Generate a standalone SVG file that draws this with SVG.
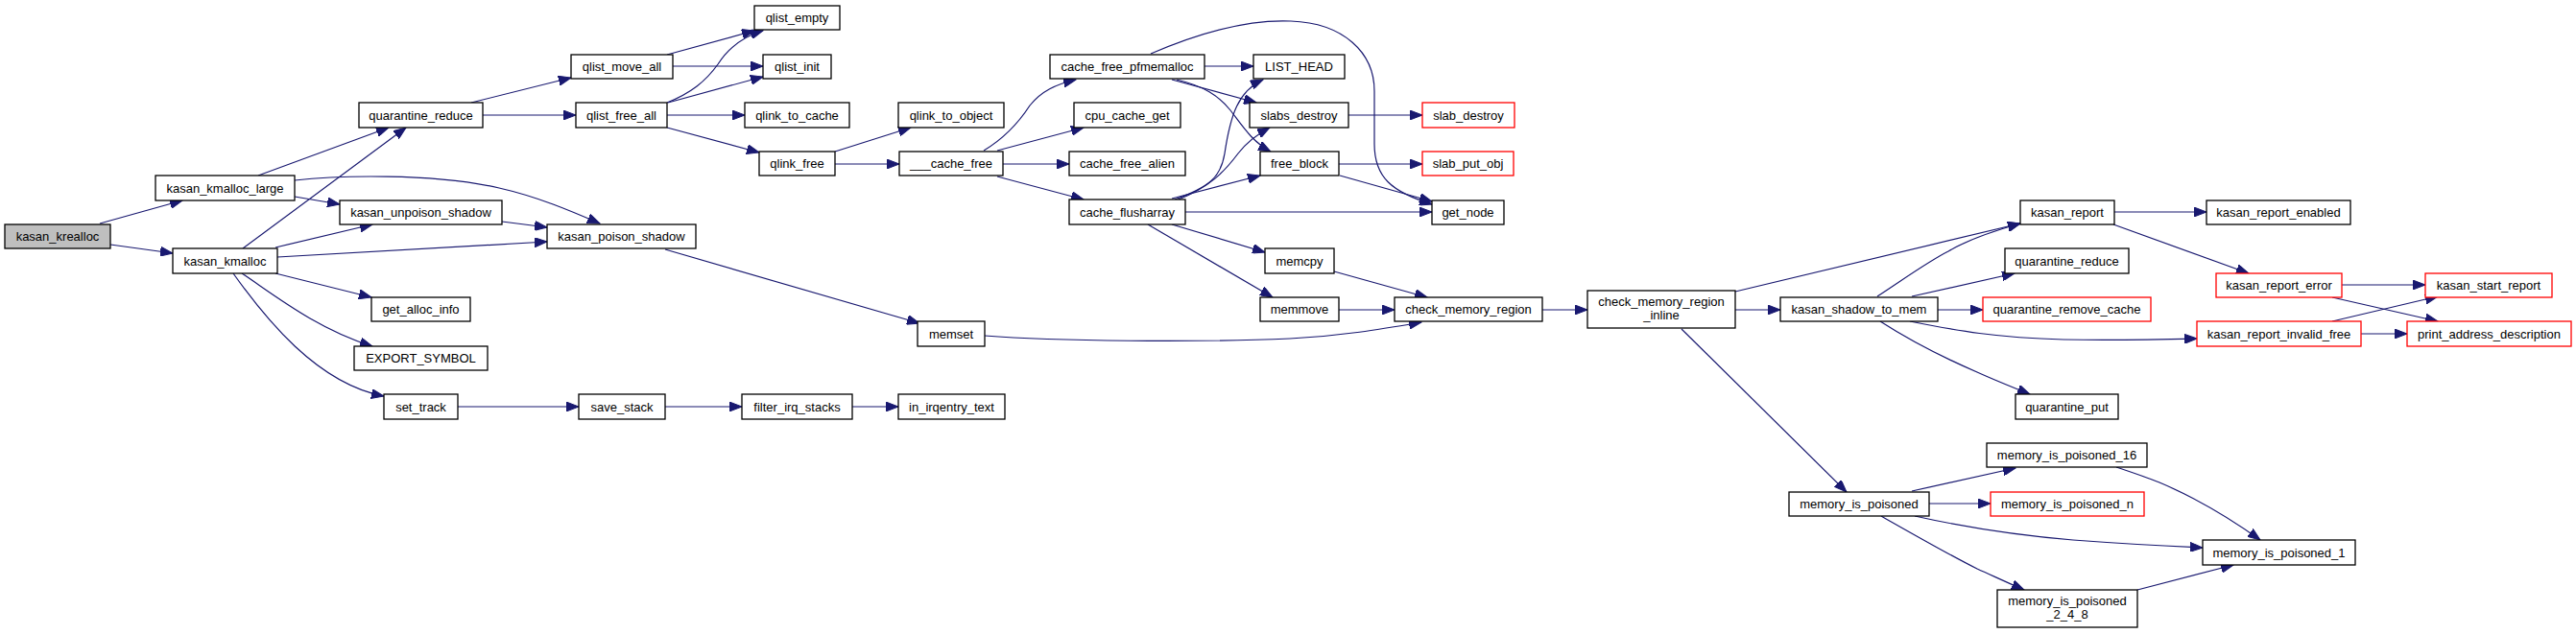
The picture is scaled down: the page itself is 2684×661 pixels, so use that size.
<svg xmlns="http://www.w3.org/2000/svg" width="2684" height="661" viewBox="0 0 2684 661">
<style>
.n rect{fill:#fff;stroke:#000;stroke-width:1.3}
.n.root rect{fill:#bfbfbf}
.n.red rect{stroke:#ff0000}
.n text{font-family:"Liberation Sans",Arial,sans-serif;font-size:13px;fill:#000;text-anchor:middle}
#edges path{fill:none;stroke:#191970;stroke-width:1.2;marker-end:url(#ah)}
</style>
<defs>
<marker id="ah" markerUnits="userSpaceOnUse" markerWidth="14" markerHeight="10" refX="13" refY="5" orient="auto">
<path d="M0,0 L13,5 L0,10 z" fill="#191970" stroke="#191970" stroke-width="1"/>
</marker>
</defs>
<rect width="2684" height="661" fill="#fff"/>
<g id="edges">
<path d="M104,233 L190,209"/>
<path d="M115,255 L180,264"/>
<path d="M269,183 L405,133"/>
<path d="M307,188 C350,183 450,180 520,196 C560,205 595,220 625,233"/>
<path d="M307,205 L354,213"/>
<path d="M253,259 L423,133"/>
<path d="M287,258 L388,234"/>
<path d="M289,268 L570,252"/>
<path d="M287,285 L387,310"/>
<path d="M252,285 C285,307 330,343 388,361"/>
<path d="M243,285 C275,330 330,400 400,413"/>
<path d="M523,231 L570,237"/>
<path d="M491,107 L595,81"/>
<path d="M503,120 L600,120"/>
<path d="M695,57 L786,32"/>
<path d="M701,69 L795,69"/>
<path d="M695,107 C720,97 735,85 748,67 C760,48 775,38 795,32"/>
<path d="M696,107 L795,80"/>
<path d="M695,120 L776,120"/>
<path d="M695,133 L791,159"/>
<path d="M870,158 L949,133"/>
<path d="M870,171 L937,171"/>
<path d="M1025,157 C1045,145 1060,130 1073,110 C1085,95 1100,88 1121,83"/>
<path d="M1039,157 L1129,133"/>
<path d="M1045,171 L1114,171"/>
<path d="M1039,184 L1129,208"/>
<path d="M1255,69 L1306,69"/>
<path d="M1221,83 L1309,107"/>
<path d="M1226,83 C1255,90 1270,100 1282,115 C1295,132 1305,148 1324,158"/>
<path d="M1199,56 C1250,34 1300,20 1345,22 C1400,24 1432,55 1432,95 L1432,150 C1432,185 1450,200 1492,213"/>
<path d="M1224,208 C1260,195 1272,185 1276,160 C1282,120 1290,95 1316,83"/>
<path d="M1228,208 C1260,195 1275,180 1290,160 C1300,147 1310,140 1323,133"/>
<path d="M1221,207 L1313,183"/>
<path d="M1235,221 L1492,221"/>
<path d="M1221,234 L1318,263"/>
<path d="M1196,234 L1326,310"/>
<path d="M1395,171 L1482,171"/>
<path d="M1396,183 L1492,210"/>
<path d="M1405,120 L1482,120"/>
<path d="M1390,283 L1487,310"/>
<path d="M1395,323 L1453,323"/>
<path d="M693,260 L958,337"/>
<path d="M1026,350 C1100,356 1250,357 1344,353 C1400,350 1440,343 1481,336"/>
<path d="M1607,323 L1654,323"/>
<path d="M1808,304 L2105,233"/>
<path d="M1808,323 L1855,323"/>
<path d="M1752,343 L1924,513"/>
<path d="M1956,309 C1985,290 2010,272 2030,262 C2050,250 2080,240 2105,233"/>
<path d="M1992,309 L2099,285"/>
<path d="M2019,323 L2066,323"/>
<path d="M1990,335 C2040,345 2080,352 2150,354 C2200,355 2250,354 2289,353"/>
<path d="M1959,335 C1990,355 2030,375 2060,388 C2080,397 2100,405 2115,411"/>
<path d="M2203,221 L2299,221"/>
<path d="M2202,234 L2343,285"/>
<path d="M2440,297 L2527,297"/>
<path d="M2430,310 L2540,335"/>
<path d="M2430,335 L2540,309"/>
<path d="M2460,348 L2508,348"/>
<path d="M1992,512 L2100,488"/>
<path d="M2010,525 L2074,525"/>
<path d="M1995,538 C2040,548 2100,558 2160,563 C2200,566 2250,569 2295,571"/>
<path d="M1960,538 C1990,555 2030,578 2060,593 C2080,602 2095,609 2109,615"/>
<path d="M2205,487 C2220,492 2235,497 2250,503 C2290,520 2330,545 2355,563"/>
<path d="M2227,615 L2327,589"/>
<path d="M477,424 L603,424"/>
<path d="M693,424 L773,424"/>
<path d="M888,424 L936,424"/>
</g>
<g id="kasan_krealloc" class="n root"><rect x="5" y="234" width="110" height="25"/><text x="60" y="251">kasan_krealloc</text></g>
<g id="kasan_kmalloc_large" class="n"><rect x="162" y="183" width="145" height="26"/><text x="234.5" y="200.5">kasan_kmalloc_large</text></g>
<g id="kasan_kmalloc" class="n"><rect x="180" y="259" width="109" height="26"/><text x="234.5" y="276.5">kasan_kmalloc</text></g>
<g id="quarantine_reduce" class="n"><rect x="374" y="107" width="129" height="26"/><text x="438.5" y="124.5">quarantine_reduce</text></g>
<g id="kasan_unpoison_shadow" class="n"><rect x="354" y="209" width="169" height="25"/><text x="438.5" y="226">kasan_unpoison_shadow</text></g>
<g id="get_alloc_info" class="n"><rect x="387" y="310" width="103" height="25"/><text x="438.5" y="327">get_alloc_info</text></g>
<g id="EXPORT_SYMBOL" class="n"><rect x="369" y="361" width="139" height="25"/><text x="438.5" y="378">EXPORT_SYMBOL</text></g>
<g id="set_track" class="n"><rect x="400" y="411" width="77" height="26"/><text x="438.5" y="428.5">set_track</text></g>
<g id="qlist_empty" class="n"><rect x="786" y="6" width="89" height="25"/><text x="830.5" y="23">qlist_empty</text></g>
<g id="qlist_move_all" class="n"><rect x="595" y="57" width="106" height="25"/><text x="648" y="74">qlist_move_all</text></g>
<g id="qlist_init" class="n"><rect x="795" y="57" width="71" height="25"/><text x="830.5" y="74">qlist_init</text></g>
<g id="qlist_free_all" class="n"><rect x="600" y="107" width="95" height="26"/><text x="647.5" y="124.5">qlist_free_all</text></g>
<g id="qlink_to_cache" class="n"><rect x="776" y="107" width="109" height="26"/><text x="830.5" y="124.5">qlink_to_cache</text></g>
<g id="qlink_free" class="n"><rect x="791" y="158" width="79" height="25"/><text x="830.5" y="175">qlink_free</text></g>
<g id="kasan_poison_shadow" class="n"><rect x="570" y="234" width="155" height="25"/><text x="647.5" y="251">kasan_poison_shadow</text></g>
<g id="save_stack" class="n"><rect x="603" y="411" width="90" height="26"/><text x="648" y="428.5">save_stack</text></g>
<g id="filter_irq_stacks" class="n"><rect x="773" y="411" width="115" height="26"/><text x="830.5" y="428.5">filter_irq_stacks</text></g>
<g id="in_irqentry_text" class="n"><rect x="936" y="411" width="111" height="26"/><text x="991.5" y="428.5">in_irqentry_text</text></g>
<g id="memset" class="n"><rect x="956" y="335" width="70" height="26"/><text x="991" y="352.5">memset</text></g>
<g id="qlink_to_object" class="n"><rect x="936" y="107" width="110" height="26"/><text x="991" y="124.5">qlink_to_object</text></g>
<g id="___cache_free" class="n"><rect x="937" y="158" width="108" height="25"/><text x="991" y="175">___cache_free</text></g>
<g id="cache_free_pfmemalloc" class="n"><rect x="1094" y="57" width="161" height="25"/><text x="1174.5" y="74">cache_free_pfmemalloc</text></g>
<g id="cpu_cache_get" class="n"><rect x="1119" y="107" width="111" height="26"/><text x="1174.5" y="124.5">cpu_cache_get</text></g>
<g id="cache_free_alien" class="n"><rect x="1114" y="158" width="121" height="25"/><text x="1174.5" y="175">cache_free_alien</text></g>
<g id="cache_flusharray" class="n"><rect x="1114" y="208" width="121" height="26"/><text x="1174.5" y="225.5">cache_flusharray</text></g>
<g id="LIST_HEAD" class="n"><rect x="1306" y="57" width="95" height="25"/><text x="1353.5" y="74">LIST_HEAD</text></g>
<g id="slabs_destroy" class="n"><rect x="1302" y="107" width="103" height="26"/><text x="1353.5" y="124.5">slabs_destroy</text></g>
<g id="free_block" class="n"><rect x="1313" y="158" width="82" height="25"/><text x="1354" y="175">free_block</text></g>
<g id="memcpy" class="n"><rect x="1318" y="259" width="72" height="26"/><text x="1354" y="276.5">memcpy</text></g>
<g id="memmove" class="n"><rect x="1313" y="310" width="82" height="25"/><text x="1354" y="327">memmove</text></g>
<g id="slab_destroy" class="n red"><rect x="1482" y="107" width="96" height="26"/><text x="1530" y="124.5">slab_destroy</text></g>
<g id="slab_put_obj" class="n red"><rect x="1482" y="158" width="95" height="25"/><text x="1529.5" y="175">slab_put_obj</text></g>
<g id="get_node" class="n"><rect x="1492" y="209" width="75" height="25"/><text x="1529.5" y="226">get_node</text></g>
<g id="check_memory_region" class="n"><rect x="1453" y="310" width="154" height="25"/><text x="1530" y="327">check_memory_region</text></g>
<g id="check_memory_region_inline" class="n"><rect x="1654" y="303" width="154" height="39"/><text x="1731" y="319">check_memory_region</text><text x="1731" y="333">_inline</text></g>
<g id="kasan_shadow_to_mem" class="n"><rect x="1855" y="310" width="164" height="25"/><text x="1937" y="327">kasan_shadow_to_mem</text></g>
<g id="kasan_report" class="n"><rect x="2105" y="209" width="98" height="25"/><text x="2154" y="226">kasan_report</text></g>
<g id="quarantine_reduce_2" class="n"><rect x="2089" y="259" width="129" height="26"/><text x="2153.5" y="276.5">quarantine_reduce</text></g>
<g id="quarantine_remove_cache" class="n red"><rect x="2066" y="310" width="175" height="25"/><text x="2153.5" y="327">quarantine_remove_cache</text></g>
<g id="quarantine_put" class="n"><rect x="2100" y="411" width="107" height="26"/><text x="2153.5" y="428.5">quarantine_put</text></g>
<g id="memory_is_poisoned" class="n"><rect x="1864" y="513" width="146" height="25"/><text x="1937" y="530">memory_is_poisoned</text></g>
<g id="memory_is_poisoned_16" class="n"><rect x="2070" y="462" width="167" height="25"/><text x="2153.5" y="479">memory_is_poisoned_16</text></g>
<g id="memory_is_poisoned_n" class="n red"><rect x="2074" y="513" width="160" height="25"/><text x="2154" y="530">memory_is_poisoned_n</text></g>
<g id="memory_is_poisoned_2_4_8" class="n"><rect x="2081" y="615" width="146" height="39"/><text x="2154" y="631">memory_is_poisoned</text><text x="2154" y="645">_2_4_8</text></g>
<g id="memory_is_poisoned_1" class="n"><rect x="2295" y="563" width="159" height="26"/><text x="2374.5" y="580.5">memory_is_poisoned_1</text></g>
<g id="kasan_report_enabled" class="n"><rect x="2299" y="209" width="150" height="25"/><text x="2374" y="226">kasan_report_enabled</text></g>
<g id="kasan_report_error" class="n red"><rect x="2309" y="285" width="131" height="25"/><text x="2374.5" y="302">kasan_report_error</text></g>
<g id="kasan_start_report" class="n red"><rect x="2527" y="285" width="132" height="25"/><text x="2593" y="302">kasan_start_report</text></g>
<g id="kasan_report_invalid_free" class="n red"><rect x="2289" y="335" width="171" height="26"/><text x="2374.5" y="352.5">kasan_report_invalid_free</text></g>
<g id="print_address_description" class="n red"><rect x="2508" y="335" width="171" height="26"/><text x="2593.5" y="352.5">print_address_description</text></g>
</svg>
